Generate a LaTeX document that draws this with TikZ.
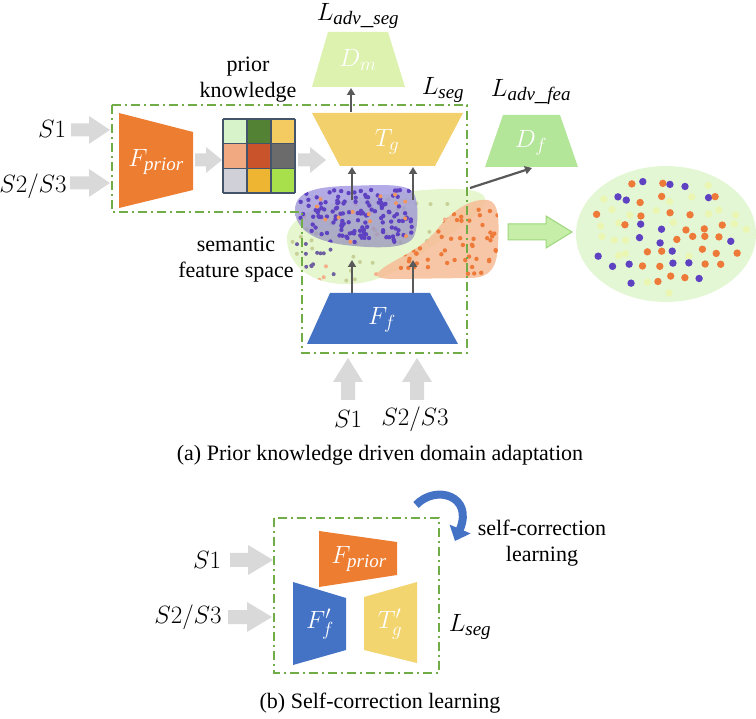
\RequirePackage{fix-cm}
\documentclass[tikz,border=0pt]{standalone}
\usepackage{fontspec}
\setmainfont{Liberation Serif}
\usetikzlibrary{arrows.meta,calc}
\DeclareMathSizes{25}{25}{19}{15}

\definecolor{cOrange}{HTML}{ED7D31}
\definecolor{cBlue}{HTML}{4472C4}
\definecolor{cYellow}{HTML}{F2D06B}
\definecolor{cYellowB}{HTML}{F3D570}
\definecolor{cDm}{HTML}{DDF2AE}
\definecolor{cDf}{HTML}{B3E698}
\definecolor{cBox}{HTML}{70AD47}
\definecolor{cGArrow}{HTML}{D9D9D9}
\definecolor{cDark}{HTML}{595959}
\definecolor{cPDot}{HTML}{5E42C2}
\definecolor{cODot}{HTML}{EE7A3A}
\definecolor{cLDot}{HTML}{EAF6B2}
\definecolor{cEll}{HTML}{E3F7D5}
\definecolor{cGreenBlob}{HTML}{E2F5C6}
\definecolor{cPurpleBlob}{HTML}{A095E4}
\definecolor{cPurpleLow}{HTML}{9C9AB8}
\definecolor{cOrangeBlob}{HTML}{F6BC96}
\definecolor{cBigArrow}{HTML}{C6EEA8}
\definecolor{cBigArrowB}{HTML}{9BD67A}
\definecolor{cGridB}{HTML}{44546A}

\newcommand\BArrow[6]{%
  \coordinate (bah) at ($(#2)!#5!(#1)$);
  \path[#6] ($(#1)!#3!90:(#2)$) -- ($(bah)!#3!90:(#2)$) -- ($(bah)!#4!90:(#2)$) -- (#2)
    -- ($(bah)!#4!-90:(#2)$) -- ($(bah)!#3!-90:(#2)$) -- ($(#1)!#3!-90:(#2)$) -- cycle;
}
\newcommand\PurpleBlob[1]{\path[#1] (295,210) .. controls (295,192) and (315,187) .. (345,186)
  .. controls (380,185) and (405,183) .. (413,192) .. controls (419,200) and (419,228) .. (413,238)
  .. controls (405,250) and (370,248) .. (345,245) .. controls (320,242) and (295,232) .. (295,210) -- cycle;}
\newcommand\OrangeBlob[1]{\path[#1] (377,274) .. controls (385,262) and (415,255) .. (435,232)
  .. controls (450,212) and (470,198) .. (488,200) .. controls (500,202) and (499,225) .. (498,245)
  .. controls (497,268) and (490,278) .. (470,278) -- (395,279) .. controls (385,279) and (375,278) .. (377,274) -- cycle;}
\newcommand\GreenBlob[1]{\path[#1] (287,240) .. controls (285,215) and (330,200) .. (380,195)
  .. controls (430,188) and (486,184) .. (485,200) .. controls (484,215) and (440,240) .. (420,255)
  .. controls (400,272) and (370,286) .. (340,284) .. controls (305,281) and (288,262) .. (287,240) -- cycle;}

\begin{document}
\begin{tikzpicture}[x=1pt,y=-1pt,
  lbl/.style={font=\fontsize{22}{26}\selectfont, inner sep=0pt},
  mlbl/.style={font=\fontsize{25}{29}\selectfont, inner sep=0pt},
  wlbl/.style={mlbl, text=white},
  garrow/.style={fill=cGArrow},
  darr/.style={draw=cDark, line width=2.2pt, -{Triangle[length=7pt,width=8pt]}},
  dbox/.style={draw=cBox, line width=1.8pt, dash pattern=on 9pt off 4pt on 2pt off 4pt}]
\useasboundingbox (0,0) rectangle (756,719);
\pgfmathsetseed{7}

% ================= (a) =================
\node[mlbl] (Ladvseg) at (358,16) {$L_{\mathit{adv\_seg}}$};
\node[mlbl] (Lseg) at (443,90) {$L_{\mathit{seg}}$};
\node[mlbl] (Ladvfea) at (531,92) {$L_{\mathit{adv\_fea}}$};
\node[lbl, align=center] (prior) at (248,80) {prior\\knowledge};
\node[lbl, align=center] (sem) at (236,260) {semantic\\feature space};

\fill[cDm] (328,32) -- (388,32) -- (405,87) -- (312,87) -- cycle;
\node[wlbl] (Dm) at (358,60) {$D_m$};
\fill[cYellow] (312,113) -- (463,113) -- (435,166) -- (340,166) -- cycle;
\node[wlbl] (Tg) at (387,142) {$T_g$};
\fill[cDf] (503,115) -- (560,115) -- (578,167) -- (485,167) -- cycle;
\node[wlbl] (Df) at (531,143) {$D_f$};
\fill[cOrange] (119,113) -- (193,132) -- (193,190) -- (119,208) -- cycle;
\node[wlbl] (Fprior) at (156,162) {$F_{\mathit{prior}}$};
\fill[cBlue] (330,293) -- (430,293) -- (458,344) -- (307,344) -- cycle;
\node[wlbl] (Ff) at (382,320) {$F_f$};

\foreach \c [count=\k from 0] in {D6F3C9,548235,F3CB61,F1A982,C9532A,6B6B6B,D0D0D8,EDB532,A8E04C}{
  \pgfmathtruncatemacro\col{mod(\k,3)}
  \pgfmathtruncatemacro\row{div(\k,3)}
  \definecolor{cell}{HTML}{\c}
  \fill[cell] ({223+24*\col},{119+24.67*\row}) rectangle ++(24,24.67);
}
\foreach \i in {0,...,3}{
  \draw[cGridB, line width=1.5pt] ({223+24*\i},119) -- ({223+24*\i},193);
  \draw[cGridB, line width=1.5pt] (223,{119+24.67*\i}) -- (295,{119+24.67*\i});
}
\coordinate (grid) at (259,156);

\GreenBlob{fill=cGreenBlob, fill opacity=0.85}
\begin{scope}
  \GreenBlob{clip}
  \foreach \i in {1,...,45}{\fill[cLDot!85!black] ({285+rnd*200},{188+rnd*96}) circle (2pt);}
  \foreach \i in {1,...,14}{\fill[cODot!60] ({290+rnd*190},{195+rnd*85}) circle (2pt);}
  \foreach \i in {1,...,12}{\fill[cPDot!50!gray] ({295+rnd*40},{240+rnd*38}) circle (2pt);}
\end{scope}
\OrangeBlob{fill=cOrangeBlob, fill opacity=0.85}
\begin{scope}
  \OrangeBlob{clip}
  \foreach \i in {1,...,75}{\fill[cODot] ({400+rnd*100},{205+rnd*72}) circle (2.2pt);}
\end{scope}
\PurpleBlob{top color=cPurpleBlob, bottom color=cPurpleLow, fill opacity=0.8}
\begin{scope}
  \PurpleBlob{clip}
  \foreach \i in {1,...,140}{\fill[cPDot] ({300+rnd*112},{190+rnd*52}) circle (2.2pt);}
  \foreach \i in {1,...,14}{\fill[cODot!80] ({300+rnd*115},{188+rnd*58}) circle (2pt);}
\end{scope}

\draw[dbox] (112,105) -- (467,105) -- (467,353) -- (302,353) -- (302,212) -- (112,212) -- cycle;

\coordinate (Tg-top) at (351,112);
\coordinate (Dm-bot) at (351,88);
\draw[darr] (Tg-top) -- (Dm-bot);
\coordinate (fs1) at (352,200); \coordinate (Tgb1) at (352,167);
\coordinate (fs2) at (413,200); \coordinate (Tgb2) at (413,167);
\draw[darr] (fs1) -- (Tgb1);
\draw[darr] (fs2) -- (Tgb2);
\coordinate (Fft1) at (352,293); \coordinate (fsb1) at (352,260);
\coordinate (Fft2) at (413,293); \coordinate (fsb2) at (413,260);
\draw[darr] (Fft1) -- (fsb1);
\draw[darr] (Fft2) -- (fsb2);
\coordinate (fsr) at (470,188); \coordinate (Dfb) at (532,168);
\draw[darr] (fsr) -- (Dfb);

\node[mlbl] (S1a) at (52,129) {$S1$};
\node[mlbl] (S23a) at (33,186) {$S2/S3$};
\coordinate (S1a-f) at (71,130); \coordinate (S1a-t) at (110,130);
\BArrow{S1a-f}{S1a-t}{6.5pt}{14pt}{21pt}{garrow}
\coordinate (S23a-f) at (70,183); \coordinate (S23a-t) at (110,183);
\BArrow{S23a-f}{S23a-t}{6.5pt}{14pt}{21pt}{garrow}
\coordinate (Fp-r) at (195,160); \coordinate (grid-l) at (222,160);
\BArrow{Fp-r}{grid-l}{6.5pt}{13pt}{16pt}{garrow}
\coordinate (grid-r) at (298,160); \coordinate (Tg-l) at (326,160);
\BArrow{grid-r}{Tg-l}{6.5pt}{13pt}{16pt}{garrow}

\coordinate (u1-f) at (348,400); \coordinate (u1-t) at (348,358);
\BArrow{u1-f}{u1-t}{7pt}{15pt}{24pt}{garrow}
\coordinate (u2-f) at (417,400); \coordinate (u2-t) at (417,358);
\BArrow{u2-f}{u2-t}{7pt}{15pt}{24pt}{garrow}
\node[mlbl] (S1b) at (348,419) {$S1$};
\node[mlbl] (S23b) at (415,419) {$S2/S3$};

\coordinate (ga-f) at (508,232); \coordinate (ga-t) at (572,232);
\BArrow{ga-f}{ga-t}{8pt}{16pt}{26pt}{fill=cBigArrow, draw=cBigArrowB, line width=1pt}
\fill[cEll] (666,234) ellipse (90pt and 68pt);
\coordinate (ell) at (666,234);
\foreach \i in {0,...,11}{
  \foreach \j in {0,...,9}{
    \pgfmathsetmacro\px{584+\i*15+rand*5}
    \pgfmathsetmacro\py{172+\j*13.5+rand*4}
    \pgfmathsetmacro\inside{((\px-666)/82)^2+((\py-233)/60)^2}
    \pgfmathtruncatemacro\cc{int(3*rnd)}
    \ifcase\cc \def\dc{cLDot}\or \def\dc{cODot}\else \def\dc{cPDot}\fi
    \ifdim\inside pt<1pt \fill[\dc] (\px,\py) circle (3.7pt);\fi
  }
}

\node[lbl] (capa) at (380,455) {(a) Prior knowledge driven domain adaptation};

% ================= (b) =================
\draw[dbox] (274,518) rectangle (439,673);
\fill[cOrange] (319,531) -- (397,542) -- (397,575) -- (319,587) -- cycle;
\node[wlbl] (Fpb) at (359,559) {$F_{\mathit{prior}}$};
\fill[cBlue] (293,582) -- (346,598) -- (346,650) -- (293,665) -- cycle;
\node[wlbl] (Ffb) at (320,624) {$F_f'$};
\fill[cYellowB] (364,597) -- (417,582) -- (417,663) -- (364,650) -- cycle;
\node[wlbl] (Tgbb) at (390,624) {$T_g'$};
\node[mlbl] (Lsegb) at (470,627) {$L_{\mathit{seg}}$};
\node[mlbl] (S1c) at (207,560) {$S1$};
\node[mlbl] (S23c) at (188,617) {$S2/S3$};
\coordinate (S1c-f) at (230,560); \coordinate (S1c-t) at (273,560);
\BArrow{S1c-f}{S1c-t}{7pt}{15pt}{25pt}{garrow}
\coordinate (S23c-f) at (228,617); \coordinate (S23c-t) at (272,617);
\BArrow{S23c-f}{S23c-t}{7pt}{15pt}{25pt}{garrow}
\coordinate (cur-s) at (416,505);
\coordinate (cur-e) at (455,541);
\draw[cBlue, line width=8pt, -{Triangle[length=13pt,width=22pt]}] (cur-s) .. controls (436,484) and (474,496) .. (cur-e);
\node[lbl, align=center] (selfc) at (542,543) {self-correction\\learning};
\node[lbl] (capb) at (380,703) {(b) Self-correction learning};
\end{tikzpicture}
\end{document}
